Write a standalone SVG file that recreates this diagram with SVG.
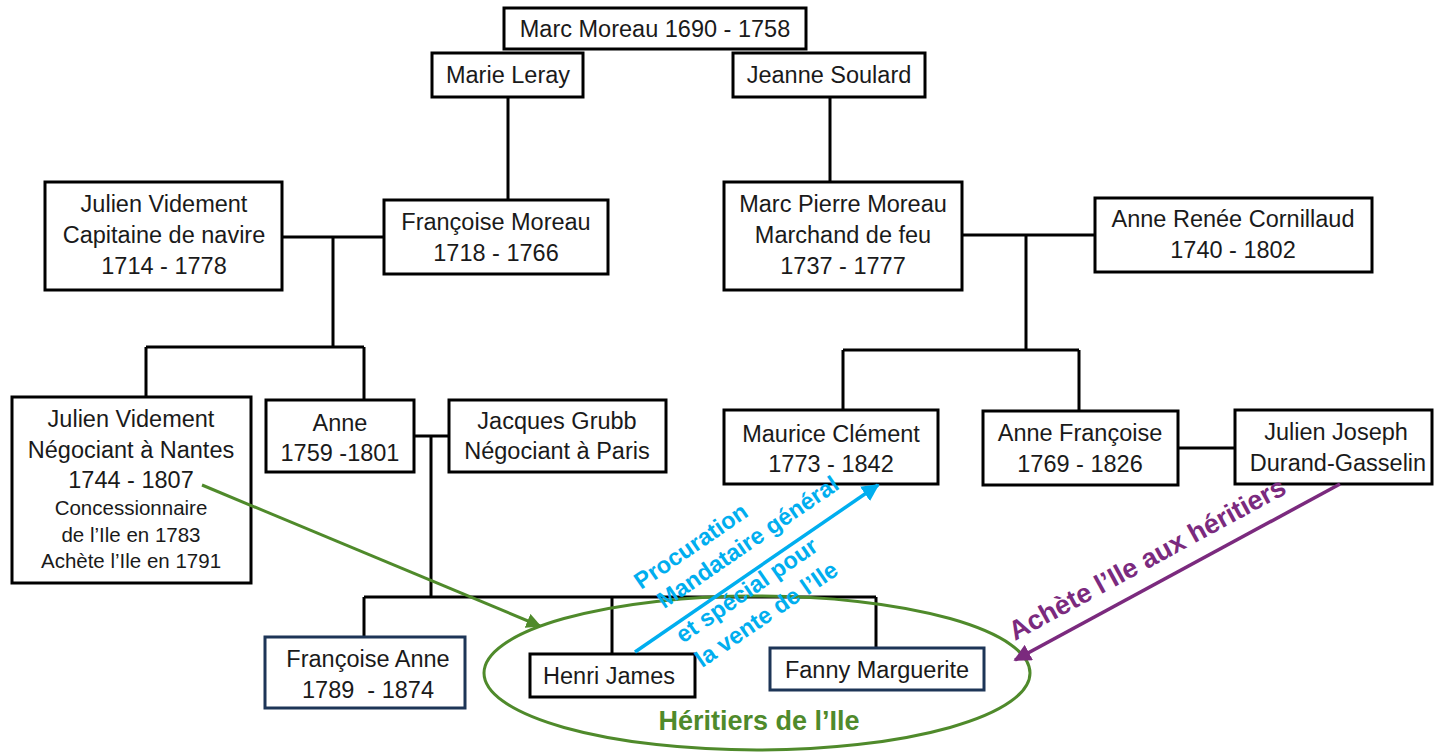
<svg xmlns="http://www.w3.org/2000/svg" width="1434" height="752" viewBox="0 0 1434 752">
<style>
.b{fill:#fff;stroke:#000;stroke-width:3}
.n{fill:#fff;stroke:#1d3557;stroke-width:3}
.t{font-family:"Liberation Sans",Arial,sans-serif;font-size:23.5px;fill:#1a1a1a;text-anchor:middle}
.s{font-size:20.5px}
.c{fill:none;stroke:#000;stroke-width:3}
.lbl{font-family:"Liberation Sans",Arial,sans-serif;font-weight:bold}
</style>
<defs>
<marker id="ag" viewBox="0 0 10 10" refX="9" refY="5" markerWidth="5" markerHeight="5" orient="auto"><path d="M0,0L10,5L0,10z" fill="#4f8a2b"/></marker>
<marker id="ab" viewBox="0 0 10 10" refX="9" refY="5" markerWidth="5" markerHeight="5" orient="auto"><path d="M0,0L10,5L0,10z" fill="#00aeef"/></marker>
<marker id="ap" viewBox="0 0 10 10" refX="9" refY="5" markerWidth="5" markerHeight="5" orient="auto"><path d="M0,0L10,5L0,10z" fill="#7b2a7e"/></marker>
</defs>
<g id="connectors">
<path class="c" d="M508,97V200M830,97V182"/>
<path class="c" d="M282,237H384M333,237V347M146,347H364M146,347V398M364,347V400"/>
<path class="c" d="M414,436H449M431,436V597M364,597H876M364,597V637M612,597V654M876,597V648"/>
<path class="c" d="M962,235H1095M1026,235V350M843,350H1079M843,350V410M1079,350V411"/>
<path class="c" d="M1178,448H1235"/>
</g>
<g id="marc"><rect class="b" x="504" y="8" width="302" height="41"/><text class="t" x="655" y="37">Marc Moreau 1690 - 1758</text></g>
<g id="marie"><rect class="b" x="432" y="53" width="151" height="44"/><text class="t" x="508" y="83">Marie Leray</text></g>
<g id="jeanne"><rect class="b" x="733" y="53" width="192" height="44"/><text class="t" x="829" y="83">Jeanne Soulard</text></g>
<g id="julien1"><rect class="b" x="45" y="182" width="237" height="108"/><text class="t" x="164" y="212">Julien Videment</text><text class="t" x="164" y="243">Capitaine de navire</text><text class="t" x="164" y="274">1714 - 1778</text></g>
<g id="francoise"><rect class="b" x="384" y="200" width="224" height="74"/><text class="t" x="496" y="230">Françoise Moreau</text><text class="t" x="496" y="261">1718 - 1766</text></g>
<g id="marcpierre"><rect class="b" x="724" y="182" width="238" height="108"/><text class="t" x="843" y="212">Marc Pierre Moreau</text><text class="t" x="843" y="243">Marchand de feu</text><text class="t" x="843" y="274">1737 - 1777</text></g>
<g id="anner"><rect class="b" x="1095" y="198" width="277" height="74"/><text class="t" x="1233" y="227">Anne Renée Cornillaud</text><text class="t" x="1233" y="258">1740 - 1802</text></g>
<g id="julien2"><rect class="b" x="12" y="397" width="239" height="186"/><text class="t" x="131" y="427">Julien Videment</text><text class="t" x="131" y="458">Négociant à Nantes</text><text class="t" x="131" y="488">1744 - 1807</text><text class="t s" x="131" y="515">Concessionnaire</text><text class="t s" x="131" y="542">de l’Ile en 1783</text><text class="t s" x="131" y="568">Achète l’Ile en 1791</text></g>
<g id="anne"><rect class="b" x="266" y="400" width="148" height="72"/><text class="t" x="340" y="431">Anne</text><text class="t" x="340" y="461">1759 -1801</text></g>
<g id="jacques"><rect class="b" x="449" y="400" width="217" height="72"/><text class="t" x="557" y="429">Jacques Grubb</text><text class="t" x="557" y="459">Négociant à Paris</text></g>
<g id="maurice"><rect class="b" x="724" y="410" width="214" height="74"/><text class="t" x="831" y="442">Maurice Clément</text><text class="t" x="831" y="472">1773 - 1842</text></g>
<g id="annef"><rect class="b" x="983" y="411" width="195" height="74"/><text class="t" x="1080" y="441">Anne Françoise</text><text class="t" x="1080" y="472">1769 - 1826</text></g>
<g id="julienj"><rect class="b" x="1235" y="410" width="197" height="74"/><text class="t" x="1336" y="440">Julien Joseph</text><text class="t" x="1338" y="471">Durand-Gasselin</text></g>
<g id="francoisea"><rect class="n" x="265" y="637" width="200" height="71"/><text class="t" x="368" y="667">Françoise Anne</text><text class="t" x="368" y="698">1789&#160; - 1874</text></g>
<g id="henri"><rect class="b" x="530" y="654" width="165" height="43"/><text class="t" x="609" y="684">Henri James</text></g>
<g id="fanny"><rect class="n" x="770" y="648" width="214" height="42"/><text class="t" x="877" y="678">Fanny Marguerite</text></g>
<g id="annotations">
<ellipse cx="757" cy="673" rx="273" ry="77" fill="none" stroke="#4f8a2b" stroke-width="3"/>
<line x1="202" y1="485" x2="540" y2="626" stroke="#4f8a2b" stroke-width="3" marker-end="url(#ag)"/>
<line x1="635" y1="652" x2="878" y2="485" stroke="#00aeef" stroke-width="3.5" marker-end="url(#ab)"/>
<line x1="1340" y1="484" x2="1015" y2="660" stroke="#7b2a7e" stroke-width="3.5" marker-end="url(#ap)"/>
<text class="lbl" x="759" y="730" fill="#4f8a2b" font-size="27" text-anchor="middle">Héritiers de l’Ile</text>
<g transform="translate(641,590) rotate(-34.5)" fill="#00aeef" class="lbl" font-size="23.5">
<text x="0" y="0">Procuration</text>
<text x="8" y="29">Mandataire général</text>
<text x="4" y="68">et spécial pour</text>
<text x="6" y="99">la vente de l’Ile</text>
</g>
<text class="lbl" fill="#7b2a7e" font-size="27" transform="translate(1015,641) rotate(-28.5)">Achète l’Ile aux héritiers</text>
</g>
</svg>
